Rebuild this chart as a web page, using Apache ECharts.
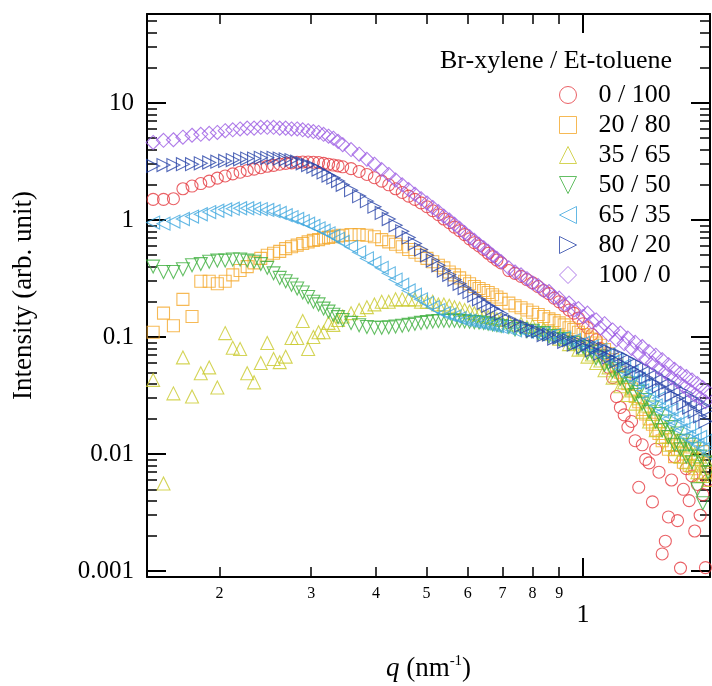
<!DOCTYPE html>
<html>
<head>
<meta charset="utf-8">
<script src="https://cdn.jsdelivr.net/npm/echarts@6.0.0/dist/echarts.min.js"></script>
<style>
  html, body { margin: 0; padding: 0; background: #fff; }
  #main { width: 712px; height: 686px; }
</style>
</head>
<body>
<div id="main"></div>
<script>
// q grid (nm^-1), shared by all samples
var q = [
  0.149,0.156,0.163,0.170,0.177,0.184,0.191,0.198,0.205,0.212,0.219,0.226,0.233,0.240,0.247,
  0.254,0.261,0.268,0.275,0.282,0.289,0.296,0.303,0.310,0.317,0.324,0.331,0.338,0.345,
  0.358,0.371,0.384,0.397,0.410,0.423,0.436,0.449,0.462,0.475,0.488,0.501,0.514,0.527,0.540,
  0.553,0.566,0.579,0.592,0.605,0.618,0.631,0.644,0.657,0.670,0.683,0.696,
  0.72,0.74,0.76,0.78,0.80,0.82,0.84,0.86,0.88,0.90,0.92,0.94,0.96,0.98,1.00,1.02,1.04,1.06,
  1.08,1.10,1.12,1.14,1.16,1.18,1.20,1.22,1.24,1.26,1.28,1.30,1.32,1.34,1.36,1.38,1.40,1.42,
  1.44,1.46,1.48,1.50,1.52,1.54,1.56,1.58,1.60,1.62,1.64,1.66,1.68,1.70,1.72,1.74
];

var s0_100 = [
  1.50,1.50,1.52,1.85,1.95,2.05,2.15,2.28,2.38,2.48,2.56,2.65,2.72,2.80,2.88,
  2.93,3.00,3.05,3.08,3.12,3.13,3.13,3.12,3.10,3.05,3.00,2.95,2.90,2.85,
  2.75,2.60,2.45,2.30,2.15,2.00,1.85,1.72,1.60,1.50,1.40,1.30,1.20,1.11,1.02,
  0.95,0.87,0.81,0.75,0.69,0.64,0.60,0.56,0.52,0.485,0.455,0.43,
  0.37,0.35,0.33,0.31,0.29,0.27,0.25,0.235,0.215,0.20,0.185,0.17,0.16,0.145,0.13,0.12,0.105,0.095,
  0.08,0.07,0.055,0.045,0.031,0.025,0.0216,0.017,0.019,0.013,0.0052,0.012,0.009,0.0084,0.0039,0.011,0.007,0.0014,
  0.0018,0.0029,0.006,0.0095,0.0027,0.00106,0.005,0.0075,0.004,0.0065,0.0022,0.0055,0.003,0.0045,0.00107,0.006
];
var s20_80 = [
  0.11,0.16,0.125,0.21,0.15,0.30,0.30,0.285,0.30,0.34,0.37,0.40,0.43,0.47,0.50,
  0.52,0.54,0.57,0.59,0.61,0.63,0.65,0.67,0.68,0.70,0.71,0.72,0.73,0.74,
  0.75,0.75,0.74,0.72,0.68,0.65,0.62,0.59,0.56,0.53,0.50,0.47,0.44,0.41,0.39,
  0.36,0.34,0.32,0.30,0.285,0.27,0.26,0.25,0.24,0.23,0.22,0.21,
  0.195,0.185,0.178,0.17,0.163,0.156,0.15,0.143,0.138,0.132,0.127,0.12,0.116,0.11,0.105,0.1,0.096,0.089,
  0.085,0.078,0.072,0.064,0.058,0.05,0.045,0.04,0.036,0.031,0.028,0.024,0.022,0.02,0.018,0.016,0.015,0.013,
  0.014,0.011,0.012,0.0095,0.011,0.013,0.0085,0.01,0.008,0.0115,0.0075,0.009,0.0065,0.0105,0.007,0.0085
];
var s35_65 = [
  0.043,0.0056,0.033,0.067,0.031,0.049,0.055,0.037,0.108,0.081,0.079,0.049,0.041,0.060,0.089,
  0.065,0.061,0.068,0.098,0.098,0.137,0.079,0.10,0.11,0.11,0.132,0.127,0.14,0.15,
  0.16,0.17,0.18,0.19,0.20,0.20,0.21,0.21,0.21,0.21,0.20,0.20,0.20,0.19,0.19,
  0.185,0.18,0.175,0.17,0.165,0.16,0.155,0.15,0.148,0.145,0.142,0.14,
  0.135,0.128,0.13,0.122,0.124,0.115,0.117,0.107,0.11,0.097,0.1,0.087,0.09,0.078,0.08,0.068,0.071,0.06,
  0.063,0.052,0.055,0.045,0.047,0.038,0.041,0.032,0.035,0.027,0.03,0.023,0.026,0.019,0.022,0.016,0.019,0.014,
  0.017,0.012,0.015,0.011,0.013,0.0095,0.012,0.0085,0.011,0.008,0.01,0.007,0.0095,0.0065,0.009,0.006
];
var s50_50 = [
  0.40,0.36,0.36,0.38,0.41,0.42,0.44,0.45,0.45,0.46,0.46,0.45,0.44,0.42,0.39,
  0.35,0.32,0.30,0.28,0.26,0.24,0.22,0.20,0.19,0.175,0.165,0.155,0.148,0.14,
  0.132,0.126,0.122,0.12,0.12,0.121,0.123,0.125,0.127,0.13,0.132,0.134,0.136,0.137,0.138,
  0.138,0.138,0.137,0.136,0.135,0.134,0.133,0.132,0.13,0.128,0.126,0.124,
  0.122,0.116,0.117,0.112,0.113,0.107,0.108,0.101,0.102,0.095,0.096,0.088,0.089,0.081,0.082,0.073,0.075,0.066,
  0.068,0.058,0.06,0.051,0.053,0.044,0.046,0.037,0.04,0.032,0.034,0.027,0.029,0.023,0.025,0.019,0.022,0.016,
  0.019,0.014,0.017,0.012,0.015,0.011,0.013,0.0095,0.012,0.0085,0.011,0.005,0.0095,0.0038,0.0085,0.007
];
var s65_35 = [
  0.95,0.93,0.97,1.02,1.07,1.12,1.17,1.20,1.23,1.25,1.26,1.26,1.25,1.24,1.22,
  1.19,1.15,1.10,1.06,1.02,0.98,0.93,0.89,0.85,0.81,0.77,0.73,0.69,0.65,
  0.59,0.53,0.47,0.43,0.39,0.35,0.31,0.28,0.25,0.23,0.21,0.195,0.18,0.17,0.16,
  0.155,0.15,0.145,0.14,0.138,0.135,0.133,0.13,0.128,0.126,0.124,0.122,
  0.118,0.114,0.116,0.111,0.112,0.106,0.108,0.101,0.104,0.096,0.099,0.091,0.094,0.086,0.089,0.081,0.083,0.074,
  0.078,0.068,0.071,0.061,0.064,0.053,0.057,0.046,0.05,0.041,0.044,0.035,0.039,0.03,0.034,0.026,0.03,0.023,
  0.026,0.02,0.024,0.018,0.021,0.016,0.019,0.014,0.017,0.013,0.015,0.012,0.014,0.011,0.013,0.01
];
var s80_20 = [
  2.9,2.95,2.95,3.0,3.0,3.05,3.1,3.15,3.2,3.25,3.3,3.35,3.35,3.4,3.4,
  3.4,3.35,3.3,3.25,3.15,3.05,2.95,2.85,2.7,2.55,2.4,2.3,2.15,2.0,
  1.8,1.6,1.45,1.3,1.15,1.02,0.9,0.8,0.71,0.63,0.56,0.5,0.45,0.41,0.37,
  0.34,0.31,0.285,0.262,0.242,0.226,0.21,0.196,0.185,0.175,0.166,0.158,
  0.14,0.135,0.125,0.122,0.113,0.112,0.104,0.105,0.097,0.099,0.091,0.094,0.086,0.09,0.082,0.087,0.077,0.083,
  0.072,0.079,0.067,0.074,0.062,0.07,0.057,0.065,0.053,0.06,0.049,0.056,0.045,0.052,0.041,0.048,0.038,0.044,
  0.035,0.041,0.032,0.038,0.03,0.035,0.027,0.033,0.025,0.03,0.023,0.028,0.021,0.026,0.019,0.024
];
var s100_0 = [
  4.6,4.8,4.85,5.1,5.3,5.4,5.5,5.6,5.8,5.9,6.0,6.1,6.1,6.2,6.2,
  6.2,6.1,6.1,6.0,6.0,5.9,5.8,5.7,5.6,5.4,5.2,5.0,4.7,4.4,
  4.0,3.65,3.3,3.0,2.7,2.45,2.2,2.0,1.82,1.66,1.52,1.4,1.28,1.18,1.08,
  1.0,0.92,0.85,0.78,0.72,0.67,0.62,0.58,0.54,0.5,0.47,0.44,
  0.39,0.36,0.34,0.315,0.29,0.275,0.25,0.245,0.22,0.215,0.19,0.195,0.17,0.175,0.15,0.16,0.135,0.14,
  0.12,0.13,0.105,0.115,0.095,0.108,0.088,0.098,0.08,0.09,0.072,0.083,0.065,0.075,0.06,0.07,0.054,0.064,
  0.05,0.058,0.045,0.053,0.042,0.049,0.038,0.046,0.035,0.043,0.032,0.04,0.03,0.037,0.028,0.034
];

var names = ['0 / 100', '20 / 80', '35 / 65', '50 / 50', '65 / 35', '80 / 20', '100 / 0'];
var colors = ['#e53940', '#f4a72a', '#c9c92c', '#3daf3d', '#3fa8df', '#2844a8', '#9c5ce4'];
var symbols = ['circle', 'rect', 'triangle', 'triangle', 'triangle', 'triangle', 'diamond'];
var rotations = [0, 0, 0, 180, 90, -90, 0];
var legendIcons = ['circle', 'rect', 'triangle',
  'path://M0,0 L10,0 L5,10 Z', 'path://M10,0 L10,10 L0,5 Z', 'path://M0,0 L10,5 L0,10 Z', 'diamond'];
var sizes = [12, 12, 13, 13, 13, 13, 14];
var values = [s0_100, s20_80, s35_65, s50_50, s65_35, s80_20, s100_0];

var qTicksMinor = [0.2, 0.3, 0.4, 0.5, 0.6, 0.7, 0.8, 0.9];
var qTicksMajor = [1];
var iTicksMajor = [0.001, 0.01, 0.1, 1, 10];
var iTicksMinor = [0.002, 0.003, 0.004, 0.005, 0.006, 0.007, 0.008, 0.009,
  0.02, 0.03, 0.04, 0.05, 0.06, 0.07, 0.08, 0.09,
  0.2, 0.3, 0.4, 0.5, 0.6, 0.7, 0.8, 0.9,
  2, 3, 4, 5, 6, 7, 8, 9, 20, 30, 40, 50];

var qMin = 0.145, qMax = 1.755;
var iMin = 0.00089, iMax = 57.6;
var serif = '"Liberation Serif", "DejaVu Serif", serif';

var chartDom = document.getElementById('main');
var myChart = echarts.init(chartDom);
var option;

function pairs(ys) {
  return q.map(function (x, i) { return [x, ys[i]]; });
}

function xAx(pos, ticks, len, line, label) {
  return {
    type: 'log', position: pos, min: qMin, max: qMax,
    axisLine: { show: line, lineStyle: { color: '#000', width: 2 } },
    axisTick: { inside: true, length: len, customValues: ticks, lineStyle: { color: '#000', width: len > 12 ? 2 : 1.5 } },
    axisLabel: label ? label : { show: false },
    splitLine: { show: false }
  };
}
function yAx(pos, ticks, len, line, label) {
  return {
    type: 'log', position: pos, min: iMin, max: iMax,
    axisLine: { show: line, lineStyle: { color: '#000', width: 2 } },
    axisTick: { inside: true, length: len, customValues: ticks, lineStyle: { color: '#000', width: len > 12 ? 2 : 1.5 } },
    axisLabel: label ? label : { show: false },
    splitLine: { show: false }
  };
}

var xBottomMinor = xAx('bottom', qTicksMinor, 10, true, {
  customValues: qTicksMinor, color: '#000', fontFamily: serif, fontSize: 16, margin: 9,
  formatter: function (v) { return Math.round(v * 10); }
});
var xBottomMajor = xAx('bottom', qTicksMajor, 19, false, {
  customValues: qTicksMajor, color: '#000', fontFamily: serif, fontSize: 26, margin: 25
});
xBottomMajor.name = '{i|q} (nm{s|-1})';
xBottomMajor.nameLocation = 'middle';
xBottomMajor.nameGap = 77;
xBottomMajor.nameTextStyle = {
  color: '#000', fontFamily: serif, fontSize: 27,
  rich: {
    i: { fontStyle: 'italic', fontFamily: serif, fontSize: 27, color: '#000' },
    s: { fontFamily: serif, fontSize: 15, color: '#000', verticalAlign: 'top', padding: [0, 0, 15, 0] }
  }
};

var yLeftMajor = yAx('left', iTicksMajor, 19, true, {
  customValues: iTicksMajor, color: '#000', fontFamily: serif, fontSize: 25, margin: 13,
  formatter: function (v) { return String(v); }
});
yLeftMajor.name = 'Intensity (arb. unit)';
yLeftMajor.nameLocation = 'middle';
yLeftMajor.nameGap = 110;
yLeftMajor.nameTextStyle = { color: '#000', fontFamily: serif, fontSize: 27 };

option = {
  animation: false,
  backgroundColor: '#fff',
  grid: { left: 147, right: 2, top: 14, bottom: 109, containLabel: false, outerBoundsMode: 'none' },
  xAxis: [
    xBottomMinor,
    xBottomMajor,
    xAx('top', qTicksMinor, 10, true, null),
    xAx('top', qTicksMajor, 19, false, null)
  ],
  yAxis: [
    yLeftMajor,
    yAx('left', iTicksMinor, 10, false, null),
    yAx('right', iTicksMajor, 19, true, null),
    yAx('right', iTicksMinor, 10, false, null)
  ],
  legend: {
    orient: 'vertical', left: 554, top: 77,
    itemWidth: 17, itemHeight: 17, itemGap: 4,
    textStyle: { color: '#000', fontFamily: serif, fontSize: 26, lineHeight: 26, padding: [0, 0, 0, 17] },
    itemStyle: { borderWidth: 1 },
    data: names.map(function (n, k) { return { name: n, icon: legendIcons[k] }; })
  },
  graphic: [{
    type: 'text', left: 440, top: 48,
    style: { text: 'Br-xylene / Et-toluene', fill: '#000', font: '26px ' + serif }
  }],
  series: names.map(function (n, k) {
    return {
      name: n,
      type: 'scatter',
      xAxisIndex: 0, yAxisIndex: 0,
      symbol: symbols[k],
      symbolRotate: rotations[k],
      symbolSize: sizes[k],
      silent: true,
      itemStyle: { color: 'rgba(255,255,255,0)', borderColor: colors[k], borderWidth: 1.1 },
      emphasis: { disabled: true },
      data: pairs(values[k])
    };
  })
};

myChart.setOption(option);
</script>
</body>
</html>
